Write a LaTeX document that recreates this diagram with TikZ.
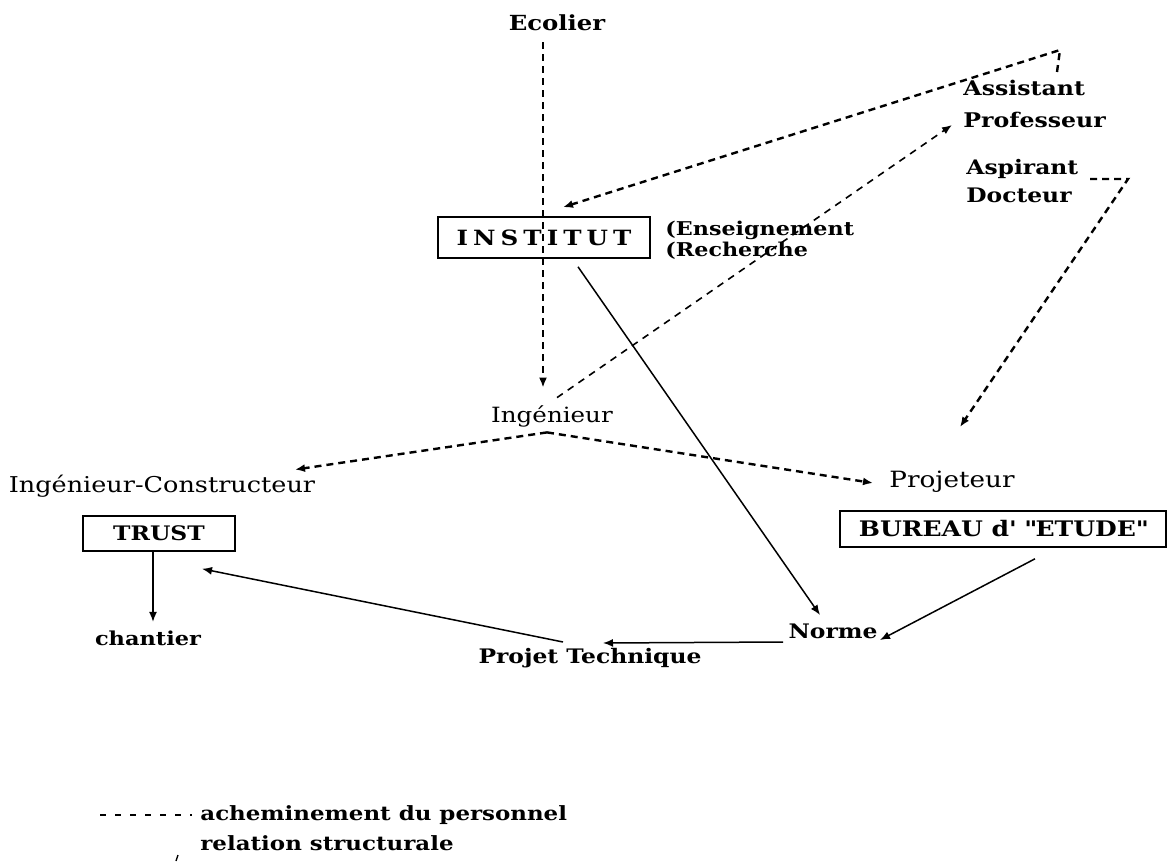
\documentclass[tikz,border=0pt]{standalone}
\usepackage{fontspec}
\setmainfont[FakeStretch=1.17]{DejaVu Serif}
\newfontfamily\spacedfont[FakeStretch=1.17,LetterSpace=24]{DejaVu Serif}
\usetikzlibrary{arrows.meta,calc}
\newcommand{\fsz}[1]{\fontsize{#1}{12}\selectfont}
\begin{document}
\begin{tikzpicture}[x=0.5pt,y=-0.5pt,
  lbl/.style={inner sep=0pt, text height=7.5pt, text depth=2.2pt},
  blbl/.style={inner sep=0pt, text height=7.5pt, text depth=2.2pt},
  boxnode/.style={draw, line width=0.8pt, inner sep=0pt},
  tip/.style={-{Latex[length=5pt,width=4pt]}},
  pers/.style={line width=1.2pt, dash pattern=on 3.5pt off 2.5pt, tip},
  perslight/.style={line width=0.8pt, dash pattern=on 3.5pt off 3pt, tip},
  rel/.style={line width=0.75pt, tip},
  legdash/.style={line width=0.9pt, dash pattern=on 3pt off 4.5pt}
]
\useasboundingbox (0,0) rectangle (1168,862);
% nodes
\node[blbl, font=\fsz{10.4}\bfseries] (ecolier) at (557,25) {Ecolier};
\node[inner sep=0pt, align=left, anchor=west, font=\fontsize{10.1}{16}\selectfont\bfseries] (assist) at (963,104) {Assistant\\Professeur};
\node[inner sep=0pt, align=left, anchor=west, font=\fontsize{10}{14}\selectfont\bfseries] (aspir) at (966,181) {Aspirant\\Docteur};
\node[boxnode, minimum width=106pt, minimum height=20.5pt, font=\fsz{10.5}\spacedfont\bfseries] (institut) at (544,237.5) {INSTITUT};
\node[inner sep=0pt, align=left, anchor=west, font=\fontsize{9.5}{10.5}\selectfont\bfseries] (ens) at (665,240.5) {(Enseignement\\(Recherche};
\node[lbl, font=\fsz{10.5}] (ing) at (552,417) {Ingénieur};
\node[lbl, font=\fsz{10.9}] (ingc) at (162,487) {Ingénieur-Constructeur};
\node[boxnode, minimum width=76pt, minimum height=17.5pt, font=\fsz{10}\bfseries] (trust) at (159,533.5) {TRUST};
\node[blbl, font=\fsz{9.6}\bfseries] (chantier) at (148,640) {chantier};
\node[blbl, font=\fsz{10}\bfseries] (pt) at (590,658) {Projet Technique};
\node[blbl, font=\fsz{10}\bfseries] (norme) at (833,633) {Norme};
\node[lbl, font=\fsz{11.2}] (projeteur) at (952,482) {Projeteur};
\node[boxnode, minimum width=163pt, minimum height=18pt, font=\fsz{10.7}\bfseries] (bureau) at (1003,529) {BUREAU d\textquotesingle{} \textquotedbl ETUDE\textquotedbl};
\node[blbl, anchor=west, font=\fsz{9.8}\bfseries] (leg1) at (200,815) {acheminement du personnel};
\node[blbl, anchor=west, font=\fsz{9.8}\bfseries] (leg2) at (200,845) {relation structurale};
% free coordinates
\coordinate (asstick) at (1057,72);
\coordinate (asscorner) at (1060,50);
\coordinate (aspB) at (1128,179);
\coordinate (aspEnd) at (960,427);
\coordinate (lgA) at (100,815);
\coordinate (lgB) at (192,815);
\coordinate (tk1) at (178,855);
\coordinate (tk2) at (176,861);
% personnel flows
\draw[pers] ($(ecolier.south)+(-14,7.3)$) -- ($(ing.north)+(-9,-19.3)$);
\draw[pers] (asstick) -- (asscorner) -- ($(institut.north)+(19,-9)$);
\draw[perslight] ($(ing.north)+(5,-9.3)$) -- ($(assist.west)+(-11,21)$);
\draw[pers] ($(aspir.west)+(124,-2)$) -- (aspB) -- (aspEnd);
\draw[pers] ($(ing.south)+(-5,5.3)$) -- ($(ingc.north)+(133,-7.3)$);
\draw[pers] ($(ing.south)+(-5,5.3)$) -- ($(projeteur.center)+(-79,1)$);
% structural relations
\draw[rel] ($(institut.south)+(34,8)$) -- ($(norme.center)+(-13,-18)$);
\draw[rel] ($(bureau.south)+(32,11)$) -- ($(norme.center)+(47,7)$);
\draw[rel] ($(norme.center)+(-50,9)$) -- ($(pt.center)+(13,-15)$);
\draw[rel] ($(pt.center)+(-27,-16)$) -- ($(trust.south)+(43,17)$);
\draw[rel] ($(trust.south)+(-6,0)$) -- ($(chantier.north)+(5,-8)$);
% legend
\draw[legdash] (lgA) -- (lgB);
\draw[line width=0.7pt] (tk1) -- (tk2);
\end{tikzpicture}
\end{document}
